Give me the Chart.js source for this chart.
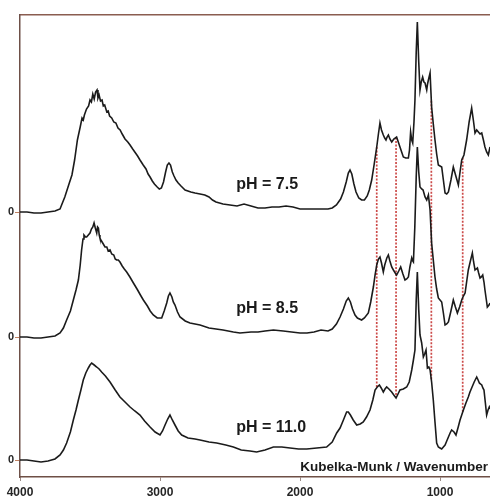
<!DOCTYPE html>
<html><head><meta charset="utf-8">
<script src="https://cdn.jsdelivr.net/npm/chart.js@4.4.1/dist/chart.umd.min.js"></script>
<style>html,body{margin:0;padding:0;background:#fff;overflow:hidden}</style>
</head><body>
<canvas id="c" width="490" height="497"></canvas>
<script>
// ---- data (Kubelka-Munk intensity, arbitrary units x100) ----
const seriesNames = ['pH = 7.5', 'pH = 8.5', 'pH = 11.0'];
const offsets = [2.48, 1.23, 0];          // vertical stacking of the three spectra
const kmScale = 0.01;

const wnA = [4000,3950,3900,3850,3800,3750,3714,3700,3680,3650,3629,3610,3590,3570,3557,3548,3540,3525,3510,3500,3490,3480,3470,3460,3450,3443,3435,3425,3414,3405,3395,3380,3370,3360,3345,3330,3315,3300,3285,3270,3250,3230,3214,3195,3180,3160,3143,3120,3100,3085,3071,3055,3040,3020,3005,2990,2975,2960,2948,2936,2925,2912,2900,2886,2870,2850,2821,2780,2750,2714,2680,2650,2625,2600,2550,2500,2450,2400,2350,2300,2250,2200,2150,2100,2050,2000,1950,1900,1850,1800,1770,1740,1710,1690,1670,1655,1643,1630,1615,1600,1580,1560,1540,1520,1505,1488,1470,1452,1440,1429,1418,1405,1395,1386,1378,1369,1358,1345,1330,1310,1298,1286,1274,1262,1245,1226,1218,1210,1202,1195,1186,1179,1170,1162,1152,1143,1134,1124,1115,1107,1095,1089,1083,1071,1060,1048,1036,1024,1012,1000,988,976,964,952,940,922,905,887,869,857,845,829,810,792,774,762,750,738,726,714,702,690,679,667,655,643];
const kmA = [0,0,-1,-1,0,1,3,8,15,28,37,52,72,85,94,92,97,103,106,112,110,118,113,120,122,114,117,111,112,106,107,100,101,96,94,90,89,84,82,78,73,70,67,63,60,56,52,47,43,38,35,31,28,25,23,24,30,40,47,49,47,40,36,32,29,26,22,20,19,18,17,15,12,10,8,7,6,8,6,4,4,5,5,6,5,3,3,3,3,3,4,7,13,20,30,39,42,38,28,20,14,12,12,16,22,32,48,65,78,89,82,77,74,72,75,77,73,70,73,75,70,65,60,55,54,54,62,80,72,69,90,112,160,190,150,122,130,135,130,129,122,128,132,139,105,88,72,58,47,46,45,32,19,18,20,32,45,36,27,40,52,57,72,90,104,92,79,82,80,78,79,72,65,60,57,65];

const wnB = [4000,3950,3900,3850,3800,3750,3714,3690,3667,3640,3619,3600,3583,3570,3560,3550,3543,3532,3524,3512,3500,3490,3480,3471,3462,3452,3446,3440,3434,3429,3418,3405,3393,3380,3370,3357,3345,3330,3320,3310,3298,3286,3270,3255,3238,3215,3190,3160,3140,3119,3090,3070,3048,3020,2988,2970,2952,2940,2929,2915,2905,2893,2875,2857,2820,2786,2750,2714,2650,2600,2550,2476,2429,2350,2300,2250,2190,2120,2060,2000,1950,1900,1850,1800,1770,1740,1714,1690,1670,1655,1640,1625,1607,1590,1560,1540,1512,1495,1476,1464,1452,1440,1429,1418,1405,1395,1380,1369,1358,1345,1333,1320,1310,1295,1281,1265,1250,1238,1226,1215,1202,1195,1190,1180,1170,1162,1152,1143,1131,1121,1107,1095,1083,1071,1060,1048,1036,1024,1012,1000,988,976,964,952,940,922,905,890,876,860,845,833,821,810,798,783,769,760,750,742,733,724,714,705,695,686,679,670,662,650,643];
const kmB = [0,0,-1,-1,0,1,4,9,17,26,37,47,57,72,87,98,102,100,100,102,104,108,110,114,109,104,110,109,102,99,96,93,90,90,86,87,83,82,78,77,77,75,71,68,65,60,54,47,42,37,31,26,22,19,19,26,34,41,44,40,35,32,25,20,16,14,13,12,9,8,7,5,4,5,5,6,7,6,5,4,4,5,7,6,8,13,20,28,36,39,35,28,22,19,17,19,24,35,50,62,72,78,80,74,65,72,79,82,76,70,67,64,62,66,70,63,57,58,60,70,79,76,75,110,160,190,165,150,148,147,140,137,142,127,94,77,60,48,39,37,35,24,12,13,15,26,37,30,24,30,37,41,44,55,67,76,84,75,67,68,69,64,59,60,62,55,47,38,30,32,34];

const wnC = [4000,3950,3900,3850,3800,3750,3714,3690,3667,3640,3619,3600,3583,3565,3548,3530,3512,3500,3488,3470,3452,3435,3417,3390,3357,3320,3286,3250,3214,3180,3143,3110,3071,3035,3000,2982,2964,2945,2929,2912,2893,2870,2845,2800,2750,2714,2650,2595,2530,2476,2420,2357,2310,2250,2190,2130,2071,2010,1952,1880,1810,1770,1738,1714,1690,1667,1655,1640,1620,1595,1570,1548,1525,1500,1480,1464,1448,1433,1420,1405,1393,1381,1365,1345,1330,1314,1300,1286,1262,1238,1220,1202,1190,1179,1170,1162,1152,1143,1131,1119,1110,1100,1090,1080,1071,1060,1048,1036,1024,1012,1000,988,976,964,952,940,928,917,900,886,870,857,845,833,815,798,786,774,756,738,728,719,710,702,694,686,676,667,657,648,643];
const kmC = [0,0,-1,-2,-1,1,5,10,17,28,40,50,60,70,80,87,92,95,97,95,93,91,88,84,78,70,63,58,53,49,45,39,33,28,25,29,35,41,45,40,35,29,25,22,21,20,18,17,15,13,10,9,8,10,13,13,12,11,11,12,13,18,27,32,40,48,48,45,40,35,36,38,43,50,60,70,73,75,72,68,71,73,71,68,65,62,66,70,71,73,78,90,100,110,160,188,150,125,117,103,106,110,92,93,90,78,60,38,17,13,12,11,13,15,19,23,27,30,28,25,33,40,45,50,57,63,68,72,78,83,80,77,76,75,72,70,57,45,50,53,51];

const xTickValues = [4000, 3000, 2000, 1000];
const yTickLabels = ['0', '0', '0'];
const markerWn = [1452, 1314, 1062, 838];   // red dashed guide lines
const axisTitle = 'Kubelka-Munk / Wavenumber';

// ---- placement / style (not data) ----
const labelPos = { wn: 2455, y: [2.75, 1.51, 0.32] };
const FONT = '"Liberation Sans", Arial, sans-serif';

const traces = [[wnA, kmA], [wnB, kmB], [wnC, kmC]];
function interp(wn, km, w) {
  for (let i = 0; i < wn.length - 1; i++) {
    if (wn[i] >= w && wn[i + 1] <= w) {
      const t = (wn[i] - w) / (wn[i] - wn[i + 1]);
      return km[i] + t * (km[i + 1] - km[i]);
    }
  }
  return 0;
}

const datasets = traces.map(([wn, km], k) => ({
  label: seriesNames[k],
  data: wn.map((w, i) => ({ x: w, y: km[i] * kmScale + offsets[k] })),
  borderColor: '#1b1b1b', borderWidth: 1.6, pointRadius: 0,
  tension: 0, fill: false, order: 0
}));
markerWn.forEach(w => {
  datasets.push({
    label: 'marker',
    data: [
      { x: w, y: interp(wnA, kmA, w) * kmScale + offsets[0] },
      { x: w, y: interp(wnC, kmC, w) * kmScale + offsets[2] }
    ],
    borderColor: '#cc4a48', borderWidth: 1.7, borderDash: [2, 1.5],
    pointRadius: 0, fill: false, order: 1
  });
});

const textPlugin = {
  id: 'texts',
  afterDatasetsDraw(chart) {
    const { ctx, chartArea, scales: { x, y } } = chart;
    ctx.save();
    ctx.fillStyle = '#1a1a1a';
    ctx.font = 'bold 16px ' + FONT;
    ctx.textBaseline = 'middle';
    ctx.textAlign = 'left';
    seriesNames.forEach((n, i) => ctx.fillText(n, x.getPixelForValue(labelPos.wn), y.getPixelForValue(labelPos.y[i])));
    ctx.font = 'bold 13.5px ' + FONT;
    ctx.textAlign = 'right';
    ctx.fillText(axisTitle, chartArea.right - 2, chartArea.bottom - 10);
    ctx.restore();
  }
};

new Chart(document.getElementById('c'), {
  type: 'line',
  data: { datasets },
  options: {
    responsive: false, animation: false, devicePixelRatio: 1,
    layout: { padding: { top: 15, left: 0, right: 0, bottom: 0 } },
    plugins: { legend: { display: false }, tooltip: { enabled: false } },
    scales: {
      x: {
        type: 'linear', reverse: true, min: 643, max: 4000,
        afterBuildTicks: s => { s.ticks = xTickValues.map(v => ({ value: v })); },
        afterFit: s => { s.height = 20; },
        ticks: { color: '#262626', font: { family: FONT, size: 12, weight: 'bold' }, padding: 4, maxRotation: 0, autoSkip: false,
                 callback: v => String(v) },
        grid: { display: true, drawOnChartArea: false, drawTicks: true, tickLength: 4, color: '#9a8a86', lineWidth: 1 },
        border: { display: true, color: '#6e4f45', width: 1.5 }
      },
      x2: {
        type: 'linear', position: 'top', reverse: true, min: 643, max: 4000,
        afterFit: s => { s.height = 0; },
        ticks: { display: false },
        grid: { display: false },
        border: { display: true, color: '#8a5d50', width: 1.5 }
      },
      y: {
        type: 'linear', min: -0.17, max: 4.45,
        afterBuildTicks: s => { s.ticks = offsets.map(v => ({ value: v })); },
        afterFit: s => { s.width = 20; },
        ticks: { color: '#262626', font: { family: FONT, size: 11, weight: 'bold' }, padding: 1,
                 callback: (v, i) => yTickLabels[i] },
        grid: { display: true, drawOnChartArea: false, drawTicks: true, tickLength: 5, color: '#c08060', lineWidth: 1 },
        border: { display: true, color: '#6e5048', width: 1.5 }
      }
    }
  },
  plugins: [textPlugin]
});
</script>
</body></html>
